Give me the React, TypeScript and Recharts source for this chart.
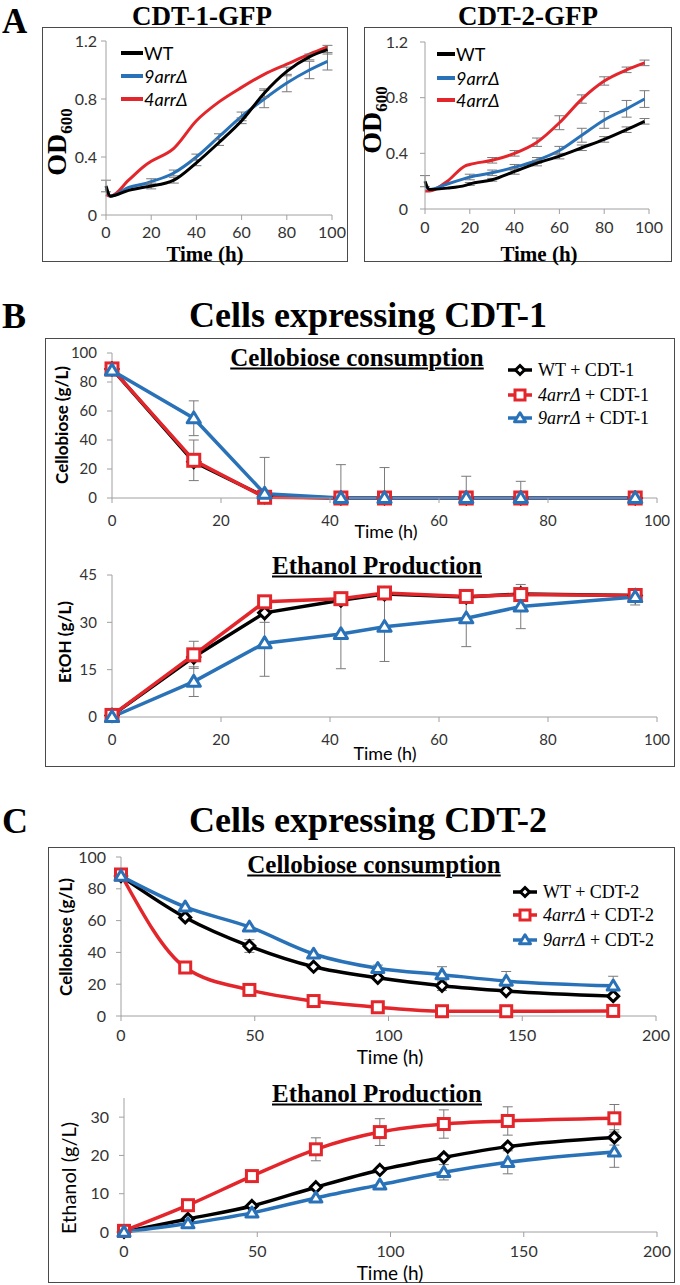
import React from 'react';
import { LineChart, Line, XAxis, YAxis, ErrorBar } from 'recharts';

// ---------- Panel A: growth (OD600) ----------
const timeA = [0, 2, 10, 18, 20, 30, 40, 50, 60, 70, 80, 90, 98];
const odWT1 = [0.2, 0.13, 0.17, 0.195, 0.2, 0.24, 0.36, 0.5, 0.65, 0.84, 0.99, 1.09, 1.14];
const od9arr1 = [0.18, 0.13, 0.19, 0.22, 0.23, 0.29, 0.4, 0.54, 0.68, 0.8, 0.91, 1.0, 1.06];
const od4arr1 = [0.14, 0.13, 0.24, 0.35, 0.37, 0.46, 0.65, 0.78, 0.88, 0.97, 1.04, 1.11, 1.16];
const errWT1 = [0.04, 0, 0, 0, 0.02, 0.02, 0.02, 0.02, 0.02, 0.03, 0.03, 0.02, 0.03];
const err9arr1 = [0, 0, 0, 0, 0.02, 0.02, 0.02, 0.02, 0.03, 0.06, 0.06, 0.06, 0.06];

const odWT2 = [0.2, 0.14, 0.15, 0.17, 0.18, 0.21, 0.27, 0.33, 0.38, 0.44, 0.5, 0.57, 0.63];
const od9arr2 = [0.17, 0.14, 0.18, 0.22, 0.23, 0.26, 0.3, 0.35, 0.42, 0.53, 0.64, 0.72, 0.79];
const od4arr2 = [0.13, 0.13, 0.2, 0.31, 0.32, 0.35, 0.4, 0.48, 0.62, 0.79, 0.92, 1.0, 1.05];
const errWT2 = [0.04, 0, 0, 0, 0.01, 0.01, 0.02, 0.02, 0.02, 0.02, 0.02, 0.02, 0.02];
const err9arr2 = [0, 0, 0, 0, 0.02, 0.02, 0.02, 0.02, 0.03, 0.05, 0.06, 0.06, 0.06];
const err4arr2 = [0, 0, 0, 0, 0, 0.02, 0.02, 0.03, 0.05, 0.03, 0.03, 0.02, 0.02];

const xTicksA = [0, 20, 40, 60, 80, 100];
const yTicksA = [0, 0.4, 0.8, 1.2];

// ---------- Panel B: CDT-1 ----------
const timeB = [0, 15, 28, 42, 50, 65, 75, 96];
const cbWT1 = [89, 25, 1, 0, 0, 0, 0, 0];
const cb4arr1 = [89, 26, 0.5, 0, 0, 0, 0, 0];
const cb9arr1 = [88, 55, 3, 0, 0, 0, 0, 0];
const cbErr4arr1 = [0, 14, 0, 0, 0, 0, 0, 0];
const cbErr9arr1 = [0, 12, [3, 25], [0, 23], [0, 21], [0, 15], [0, 11.5], 0];

const etWT1 = [0.5, 19, 33, 37, 39, 38, 39, 38.5];
const et4arr1 = [0.5, 19.7, 36.5, 37.5, 39.3, 38.2, 38.8, 38.5];
const et9arr1 = [0, 11.2, 23.4, 26.3, 28.6, 31.3, 35, 38];
const etErrWT1 = [0, 0, 3, 0, 0, 0, 0, 0];
const etErr4arr1 = [0, 4.3, 0, 0, 0, 0, 0, 0];
const etErr9arr1 = [0, 4.7, 10.5, 11, 11, 9, 7, 2.5];

const xTicksB = [0, 20, 40, 60, 80, 100];
const yTicksCbB = [0, 20, 40, 60, 80, 100];
const yTicksEtB = [0, 15, 30, 45];

// ---------- Panel C: CDT-2 ----------
const timeC = [0, 24, 48, 72, 96, 120, 144, 184];
const cbWT2 = [88, 62, 44, 31, 24, 19, 15.7, 12.5];
const cb4arr2 = [89, 30.5, 16.4, 9.4, 5.5, 3, 3, 3.2];
const cb9arr2 = [88, 68.6, 56, 39, 30, 26, 22, 19];
const cbErrWT2 = [0, 0, 4, 0, 0, 3, 0, 0];
const cbErr9arr2 = [0, 0, 0, 0, 2, 5, 6, 6];

const etWT2 = [0, 3.4, 6.8, 11.7, 16.2, 19.5, 22.3, 24.7];
const et4arr2 = [0.3, 7, 14.6, 21.6, 26.1, 28.2, 29, 29.7];
const et9arr2 = [0, 2.2, 5, 8.9, 12.3, 15.6, 18.2, 20.9];
const etErrWT2 = [0, 0, 0, 0, 0, 0, 0, 2];
const etErr4arr2 = [0, 0.5, 1.5, 3, 3.5, 3.7, 3.7, 3.6];
const etErr9arr2 = [0, 0, 0, 0, 0, 2, 3, 4];

const xTicksC = [0, 50, 100, 150, 200];
const yTicksCbC = [0, 20, 40, 60, 80, 100];
const yTicksEtC = [0, 10, 20, 30];

const BLACK = '#000000';
const RED = '#e3262b';
const BLUE = '#2a72b8';
const AXIS = '#a0a0a0';
const TICK = '#333333';
const ERR = '#7a7a7a';
const SANS = 'Lato, "Noto Sans", sans-serif';
const SERIF = '"Liberation Serif", "DejaVu Serif", serif';

const rowsOf = (time: number[], cols: Record<string, any[]>) =>
  time.map((t, i) => {
    const row: any = { t };
    Object.keys(cols).forEach((k) => (row[k] = cols[k][i]));
    return row;
  });

const dataA1 = rowsOf(timeA, { wt: odWT1, a9: od9arr1, a4: od4arr1, ewt: errWT1, e9: err9arr1 });
const dataA2 = rowsOf(timeA, { wt: odWT2, a9: od9arr2, a4: od4arr2, ewt: errWT2, e9: err9arr2, e4: err4arr2 });
const dataB1 = rowsOf(timeB, { wt: cbWT1, a4: cb4arr1, a9: cb9arr1, e4: cbErr4arr1, e9: cbErr9arr1 });
const dataB2 = rowsOf(timeB, { wt: etWT1, a4: et4arr1, a9: et9arr1, ewt: etErrWT1, e4: etErr4arr1, e9: etErr9arr1 });
const dataC1 = rowsOf(timeC, { wt: cbWT2, a4: cb4arr2, a9: cb9arr2, ewt: cbErrWT2, e9: cbErr9arr2 });
const dataC2 = rowsOf(timeC, { wt: etWT2, a4: et4arr2, a9: et9arr2, ewt: etErrWT2, e4: etErr4arr2, e9: etErr9arr2 });

type Shape = 'diamond' | 'square' | 'triangle';

function markerEl(shape: Shape, cx: number, cy: number, size: number, color: string, key?: any) {
  const s = size / 2;
  if (shape === 'square') {
    return <rect key={key} x={cx - s} y={cy - s} width={size} height={size} fill="#fff" stroke={color} strokeWidth={3} />;
  }
  if (shape === 'diamond') {
    return (
      <polygon key={key} points={`${cx},${cy - s} ${cx + s},${cy} ${cx},${cy + s} ${cx - s},${cy}`}
        fill="#fff" stroke={color} strokeWidth={3} />
    );
  }
  return (
    <polygon key={key} points={`${cx},${cy - s * 1.05} ${cx + s * 1.1},${cy + s * 0.75} ${cx - s * 1.1},${cy + s * 0.75}`}
      fill="#fff" stroke={color} strokeWidth={3} strokeLinejoin="round" />
  );
}

const makeDot = (shape: Shape, color: string, size: number) => (p: any) => {
  if (p.cx == null || p.cy == null) return <g key={p.index} />;
  return markerEl(shape, p.cx, p.cy, size, color, `${shape}-${p.index}`);
};

interface SeriesDef {
  key: string;
  err?: string;
  color: string;
  shape?: Shape;
}

interface ChartProps {
  left: number; top: number; width: number; height: number;
  mt: number; mr: number; yw: number; xh: number;
  data: any[];
  xDomain: number[]; xTicks: number[];
  yDomain: number[]; yTicks: number[];
  series: SeriesDef[];
  curve: 'monotone' | 'linear';
  lineWidth: number;
  markerSize?: number;
  tickFont: number;
  xTickMargin: number;
  yTickMargin: number;
}

function Chart(p: ChartProps) {
  return (
    <div style={{ position: 'absolute', left: p.left, top: p.top }}>
      <LineChart width={p.width} height={p.height} data={p.data}
        margin={{ top: p.mt, right: p.mr, left: 0, bottom: 0 }}>
        <XAxis dataKey="t" type="number" domain={p.xDomain} ticks={p.xTicks} interval={0}
          height={p.xh} stroke={AXIS} tickSize={5} tickMargin={p.xTickMargin}
          tick={{ fill: TICK, fontSize: p.tickFont, fontFamily: SANS }} />
        <YAxis type="number" domain={p.yDomain} ticks={p.yTicks} interval={0}
          width={p.yw} stroke={AXIS} tickSize={5} tickMargin={p.yTickMargin}
          tick={{ fill: TICK, fontSize: p.tickFont, fontFamily: SANS }} />
        {p.series.map((s) => (
          <Line key={s.key} dataKey={s.key} type={p.curve} stroke={s.color} strokeWidth={p.lineWidth}
            dot={s.shape ? makeDot(s.shape, s.color, p.markerSize || 12) : false}
            activeDot={false} isAnimationActive={false}>
            {s.err && <ErrorBar dataKey={s.err} width={5} stroke={ERR} strokeWidth={1} direction="y" />}
          </Line>
        ))}
      </LineChart>
    </div>
  );
}

function Txt({ x, y, size, children, family = SERIF, weight = 700, rotate = 0, underline = false, align = 'center', italic = false }: any) {
  const tx = align === 'center' ? '-50%' : '0';
  return (
    <div style={{
      position: 'absolute', left: x, top: y, fontSize: size, fontFamily: family, fontWeight: weight,
      fontStyle: italic ? 'italic' : 'normal', lineHeight: 1, whiteSpace: 'nowrap', color: '#000',
      textDecoration: underline ? 'underline' : 'none', textDecorationThickness: underline ? 2 : undefined,
      textUnderlineOffset: 2,
      transform: `translate(${tx}, -50%) rotate(${rotate}deg)`, transformOrigin: 'center center',
    }}>{children}</div>
  );
}

function Box({ x1, y1, x2, y2 }: any) {
  return <div style={{ position: 'absolute', left: x1, top: y1, width: x2 - x1, height: y2 - y1, border: '1.5px solid #4a4a4a', boxSizing: 'border-box' }} />;
}

const legendA = [
  { label: 'WT', color: BLACK, italic: false },
  { label: '9arrΔ', color: BLUE, italic: true },
  { label: '4arrΔ', color: RED, italic: true },
];

function LegendA({ x, ys, lineLen }: any) {
  return (
    <>
      {legendA.map((l, i) => (
        <div key={l.label} style={{ position: 'absolute', left: x, top: ys[i], transform: 'translateY(-50%)', display: 'flex', alignItems: 'center' }}>
          <div style={{ width: lineLen, height: 3.5, background: l.color }} />
          <span style={{ fontFamily: SANS, fontSize: 18, fontStyle: l.italic ? 'italic' : 'normal', lineHeight: 1, marginLeft: 1 }}>{l.label}</span>
        </div>
      ))}
    </>
  );
}

const legendBC = [
  { strain: 'WT', color: BLACK, shape: 'diamond' as Shape, italic: false },
  { strain: '4arrΔ', color: RED, shape: 'square' as Shape, italic: true },
  { strain: '9arrΔ', color: BLUE, shape: 'triangle' as Shape, italic: true },
];

function LegendBC({ x, ys, cdt }: any) {
  return (
    <>
      {legendBC.map((l, i) => (
        <div key={l.strain} style={{ position: 'absolute', left: x, top: ys[i], transform: 'translateY(-50%)', display: 'flex', alignItems: 'center' }}>
          <svg width={26} height={16}>
            <line x1={1} y1={8} x2={25} y2={8} stroke={l.color} strokeWidth={3.5} />
            {markerEl(l.shape, 13, 8, l.shape === 'diamond' ? 9 : 10, l.color)}
          </svg>
          <span style={{ fontFamily: SERIF, fontSize: 18, lineHeight: 1, marginLeft: 5 }}>
            <span style={{ fontStyle: l.italic ? 'italic' : 'normal' }}>{l.strain}</span> + {cdt}
          </span>
        </div>
      ))}
    </>
  );
}

const seriesA: SeriesDef[] = [
  { key: 'a4', color: RED, err: 'e4' },
  { key: 'a9', color: BLUE, err: 'e9' },
  { key: 'wt', color: BLACK, err: 'ewt' },
];

const seriesBC: SeriesDef[] = [
  { key: 'wt', color: BLACK, shape: 'diamond', err: 'ewt' },
  { key: 'a4', color: RED, shape: 'square', err: 'e4' },
  { key: 'a9', color: BLUE, shape: 'triangle', err: 'e9' },
];

export default function App() {
  return (
    <div style={{ position: 'absolute', left: 0, top: 0, width: 680, height: 1285, background: '#fff', overflow: 'hidden' }}>
      {/* ---- A ---- */}
      <Txt x={2} y={21} size={35} align="left">A</Txt>
      <Txt x={202} y={16} size={27}>CDT-1-GFP</Txt>
      <Txt x={528} y={16} size={27}>CDT-2-GFP</Txt>
      <Box x1={42} y1={27} x2={348} y2={262} />
      <Box x1={364} y1={27} x2={672} y2={262} />
      <Chart left={42} top={27} width={306} height={234} mt={14} mr={16} yw={64} xh={46}
        data={dataA1} xDomain={[0, 100]} xTicks={xTicksA} yDomain={[0, 1.2]} yTicks={yTicksA}
        series={seriesA} curve="monotone" lineWidth={3} tickFont={16} xTickMargin={7} yTickMargin={4} />
      <Chart left={364} top={27} width={308} height={234} mt={15} mr={23} yw={61} xh={52}
        data={dataA2} xDomain={[0, 100]} xTicks={xTicksA} yDomain={[0, 1.2]} yTicks={yTicksA}
        series={seriesA} curve="monotone" lineWidth={3} tickFont={16} xTickMargin={8} yTickMargin={12} />
      <LegendA x={121} ys={[53, 76, 99]} lineLen={22} />
      <LegendA x={437} ys={[54, 78, 100]} lineLen={18} />
      <Txt x={59} y={142} size={28} rotate={-90}>OD<sub style={{ fontSize: 17 }}>600</sub></Txt>
      <Txt x={374} y={120} size={28} rotate={-90}>OD<sub style={{ fontSize: 17 }}>600</sub></Txt>
      <Txt x={205} y={254} size={21}>Time (h)</Txt>
      <Txt x={539} y={254} size={21}>Time (h)</Txt>

      {/* ---- B ---- */}
      <Txt x={2} y={316} size={36} align="left">B</Txt>
      <Txt x={368} y={315} size={36}>Cells expressing CDT-1</Txt>
      <Box x1={45} y1={338} x2={675} y2={767} />
      <Txt x={357} y={357} size={25} underline>Cellobiose consumption</Txt>
      <Chart left={45} top={338} width={630} height={200} mt={15} mr={18} yw={67} xh={40}
        data={dataB1} xDomain={[0, 100]} xTicks={xTicksB} yDomain={[0, 100]} yTicks={yTicksCbB}
        series={seriesBC} curve="linear" lineWidth={3.5} markerSize={12} tickFont={15} xTickMargin={12} yTickMargin={10} />
      <LegendBC x={507} ys={[370, 395, 418]} cdt="CDT-1" />
      <Txt x={61} y={425} size={17} family={SANS} rotate={-90}>Cellobiose (g/L)</Txt>
      <Txt x={386} y={531} size={18} family={SANS} weight={400}>Time (h)</Txt>

      <Txt x={377} y={565} size={25} underline>Ethanol Production</Txt>
      <Chart left={45} top={560} width={630} height={197} mt={15} mr={18} yw={67} xh={40}
        data={dataB2} xDomain={[0, 100]} xTicks={xTicksB} yDomain={[0, 45]} yTicks={yTicksEtB}
        series={seriesBC} curve="linear" lineWidth={3.5} markerSize={12} tickFont={15} xTickMargin={12} yTickMargin={10} />
      <Txt x={64} y={642} size={17} family={SANS} rotate={-90}>EtOH (g/L)</Txt>
      <Txt x={385} y={753} size={18} family={SANS} weight={400}>Time (h)</Txt>

      {/* ---- C ---- */}
      <Txt x={2} y={821} size={36} align="left">C</Txt>
      <Txt x={368} y={820} size={36}>Cells expressing CDT-2</Txt>
      <Box x1={48} y1={847} x2={675} y2={1283} />
      <Txt x={374} y={864} size={25} underline>Cellobiose consumption</Txt>
      <Chart left={48} top={847} width={627} height={209} mt={10} mr={19} yw={73} xh={40}
        data={dataC1} xDomain={[0, 200]} xTicks={xTicksC} yDomain={[0, 100]} yTicks={yTicksCbC}
        series={seriesBC} curve="monotone" lineWidth={3.5} markerSize={11} tickFont={16} xTickMargin={9} yTickMargin={10} />
      <LegendBC x={512} ys={[892, 915, 940]} cdt="CDT-2" />
      <Txt x={65} y={937} size={17} family={SANS} rotate={-90}>Cellobiose (g/L)</Txt>
      <Txt x={390} y={1056} size={19} family={SANS} weight={400}>Time (h)</Txt>

      <Txt x={377} y={1093} size={25} underline>Ethanol Production</Txt>
      <Chart left={48} top={1085} width={627} height={187} mt={13} mr={18} yw={76} xh={40}
        data={dataC2} xDomain={[0, 200]} xTicks={xTicksC} yDomain={[0, 35]} yTicks={yTicksEtC}
        series={seriesBC} curve="monotone" lineWidth={3.5} markerSize={11} tickFont={16} xTickMargin={9} yTickMargin={10} />
      <Txt x={68} y={1178} size={20} family={SANS} weight={400} rotate={-90}>Ethanol (g/L)</Txt>
      <Txt x={390} y={1272} size={19} family={SANS} weight={400}>Time (h)</Txt>
    </div>
  );
}
